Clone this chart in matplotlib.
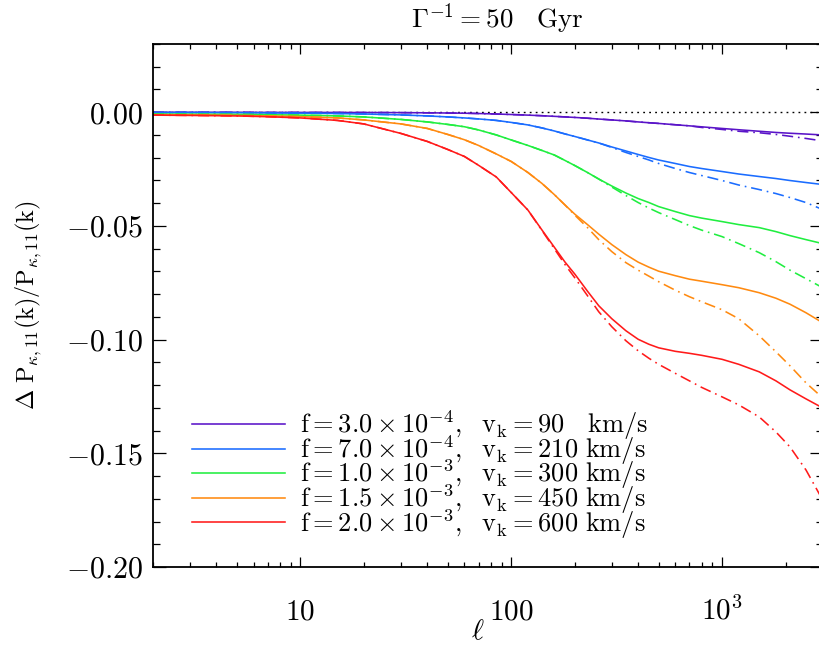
import matplotlib
matplotlib.use('Agg')
import matplotlib.pyplot as plt
from matplotlib.ticker import FixedLocator, FuncFormatter, NullFormatter

plt.rcParams['mathtext.fontset'] = 'cm'
plt.rcParams['font.family'] = ['DejaVu Serif']
plt.rcParams['lines.scale_dashes'] = False

# ---------------- data ----------------
ell = [2, 3, 5, 7, 10, 15, 20, 30, 40, 50, 60, 70, 85, 100, 120, 140, 160, 180,
       200, 230, 260, 300, 350, 400, 450, 500, 600, 700, 800, 1000, 1200, 1500,
       1800, 2100, 2500, 3000]

purple_solid = [-0.00004, -0.00004, -0.00004, -0.00009, -0.00009, -0.00011, -0.00013,
                -0.00018, -0.00026, -0.00035, -0.00044, -0.00057, -0.00079, -0.00101,
                -0.00128, -0.00154, -0.00181, -0.00207, -0.00229, -0.00264, -0.00300,
                -0.00339, -0.00383, -0.00427, -0.00463, -0.00493, -0.00551, -0.00599,
                -0.00643, -0.00714, -0.00771, -0.00837, -0.00890, -0.00925, -0.00960,
                -0.01000]
purple_dash = [-0.00004, -0.00004, -0.00004, -0.00009, -0.00009, -0.00011, -0.00013,
               -0.00018, -0.00026, -0.00035, -0.00044, -0.00057, -0.00079, -0.00101,
               -0.00128, -0.00154, -0.00181, -0.00207, -0.00229, -0.00264, -0.00300,
               -0.00339, -0.00383, -0.00427, -0.00463, -0.00493, -0.00551, -0.00599,
               -0.00670, -0.00758, -0.00837, -0.00903, -0.00978, -0.01057, -0.01154,
               -0.01264]

blue_solid = [-0.00013, -0.00013, -0.00022, -0.00031, -0.00040, -0.00057, -0.00079,
              -0.00119, -0.00163, -0.00207, -0.00251, -0.00295, -0.00361, -0.00449,
              -0.00559, -0.00692, -0.00824, -0.00956, -0.01066, -0.01220, -0.01352,
              -0.01529, -0.01705, -0.01859, -0.01991, -0.02101, -0.02255, -0.02388,
              -0.02476, -0.02608, -0.02718, -0.02828, -0.02916, -0.03004, -0.03092,
              -0.03180]
blue_dash = [-0.00013, -0.00013, -0.00022, -0.00031, -0.00040, -0.00057, -0.00079,
             -0.00119, -0.00163, -0.00207, -0.00251, -0.00295, -0.00361, -0.00449,
             -0.00559, -0.00692, -0.00824, -0.00956, -0.01066, -0.01220, -0.01352,
             -0.01551, -0.01771, -0.01947, -0.02101, -0.02255, -0.02476, -0.02652,
             -0.02784, -0.03004, -0.03202, -0.03401, -0.03577, -0.03753, -0.03973,
             -0.04282]

green_solid = [-0.00084, -0.00088, -0.00097, -0.00110, -0.00128, -0.00163, -0.00207,
               -0.00317, -0.00427, -0.00537, -0.00639, -0.00780, -0.01000, -0.01220,
               -0.01462, -0.01683, -0.01881, -0.02123, -0.02343, -0.02652, -0.02938,
               -0.03246, -0.03555, -0.03797, -0.03973, -0.04150, -0.04370, -0.04546,
               -0.04656, -0.04810, -0.04942, -0.05075, -0.05251, -0.05427, -0.05603,
               -0.05779]
green_dash = [-0.00084, -0.00088, -0.00097, -0.00110, -0.00128, -0.00163, -0.00207,
              -0.00317, -0.00427, -0.00537, -0.00639, -0.00780, -0.01000, -0.01220,
              -0.01462, -0.01683, -0.01881, -0.02123, -0.02343, -0.02652, -0.02938,
              -0.03291, -0.03665, -0.03973, -0.04216, -0.04414, -0.04722, -0.04986,
              -0.05185, -0.05471, -0.05779, -0.06176, -0.06572, -0.06947, -0.07321,
              -0.07718]

orange_solid = [-0.00110, -0.00119, -0.00141, -0.00163, -0.00194, -0.00251, -0.00339,
                -0.00515, -0.00714, -0.00978, -0.01211, -0.01462, -0.01837, -0.02167,
                -0.02652, -0.03136, -0.03621, -0.04083, -0.04480, -0.04942, -0.05361,
                -0.05823, -0.06264, -0.06594, -0.06815, -0.06991, -0.07189, -0.07343,
                -0.07431, -0.07585, -0.07718, -0.07938, -0.08180, -0.08444, -0.08819,
                -0.09259]
orange_dash = [-0.00110, -0.00119, -0.00141, -0.00163, -0.00194, -0.00251, -0.00339,
               -0.00515, -0.00714, -0.00978, -0.01211, -0.01462, -0.01837, -0.02167,
               -0.02652, -0.03136, -0.03621, -0.04083, -0.04524, -0.05075, -0.05603,
               -0.06132, -0.06616, -0.06947, -0.07211, -0.07453, -0.07828, -0.08114,
               -0.08334, -0.08687, -0.09083, -0.09832, -0.10537, -0.11153, -0.11902,
               -0.12563]

red_solid = [-0.00128, -0.00141, -0.00163, -0.00198, -0.00251, -0.00361, -0.00515,
             -0.00934, -0.01286, -0.01639, -0.01947, -0.02335, -0.02850, -0.03533,
             -0.04304, -0.05185, -0.05934, -0.06594, -0.07114, -0.07872, -0.08510,
             -0.09083, -0.09612, -0.09986, -0.10206, -0.10360, -0.10515, -0.10603,
             -0.10691, -0.10867, -0.11087, -0.11418, -0.11814, -0.12211, -0.12607,
             -0.13004]
red_dash = [-0.00128, -0.00141, -0.00163, -0.00198, -0.00251, -0.00361, -0.00515,
            -0.00934, -0.01286, -0.01639, -0.01947, -0.02335, -0.02850, -0.03533,
            -0.04304, -0.05207, -0.06000, -0.06704, -0.07277, -0.08070, -0.08775,
            -0.09436, -0.10052, -0.10493, -0.10823, -0.11087, -0.11484, -0.11814,
            -0.12101, -0.12519, -0.12872, -0.13400, -0.14061, -0.14722, -0.15735,
            -0.17056]

labels = [
    r'$\mathrm{f}=3.0\times10^{-4},\ \ \mathrm{v}_\mathrm{k}=90\ \ \ \mathrm{km/s}$',
    r'$\mathrm{f}=7.0\times10^{-4},\ \ \mathrm{v}_\mathrm{k}=210\ \mathrm{km/s}$',
    r'$\mathrm{f}=1.0\times10^{-3},\ \ \mathrm{v}_\mathrm{k}=300\ \mathrm{km/s}$',
    r'$\mathrm{f}=1.5\times10^{-3},\ \ \mathrm{v}_\mathrm{k}=450\ \mathrm{km/s}$',
    r'$\mathrm{f}=2.0\times10^{-3},\ \ \mathrm{v}_\mathrm{k}=600\ \mathrm{km/s}$',
]
colors = ['#5a14c8', '#1a6cff', '#20ee40', '#ff8a10', '#ff1a1a']
solids = [purple_solid, blue_solid, green_solid, orange_solid, red_solid]
dashes = [purple_dash, blue_dash, green_dash, orange_dash, red_dash]

xticks = [10, 100, 1000]
xticklabels = [r'$10$', r'$100$', r'$10^3$']
xminor = [2, 3, 4, 5, 6, 7, 8, 9, 20, 30, 40, 50, 60, 70, 80, 90,
          200, 300, 400, 500, 600, 700, 800, 900, 2000, 3000]
yticks = [-0.20, -0.15, -0.10, -0.05, 0.0]

# ---------------- figure ----------------
fig = plt.figure(figsize=(8.2, 6.45), dpi=100)
ax = fig.add_axes([153 / 820, 78 / 645, 669.7 / 820, 523 / 645])

ax.axhline(0.0, color='black', lw=1.0, ls=(0, (1.3, 3.0)))

lw = 1.15
for c, s, d, lab in zip(colors, solids, dashes, labels):
    ax.plot(ell, d, color=c, lw=lw, ls=(0, (8.0, 3.5, 1.2, 3.5)))
    ax.plot(ell, s, color=c, lw=lw, label=lab)

ax.set_xscale('log')
ax.set_xlim(2, 3000)
ax.set_ylim(-0.20, 0.03)

ax.xaxis.set_major_locator(FixedLocator(xticks))
ax.xaxis.set_minor_locator(FixedLocator(xminor))
ax.set_xticks(xticks, xticklabels)
ax.xaxis.set_minor_formatter(NullFormatter())

ax.yaxis.set_major_locator(FixedLocator(yticks))
ax.yaxis.set_minor_locator(FixedLocator([v / 100 for v in range(-20, 4)]))
ax.yaxis.set_major_formatter(FuncFormatter(lambda v, p: r'$%.2f$' % (0.0 if abs(v) < 1e-9 else v)))

ax.tick_params(which='both', direction='in', top=True, right=True, width=0.9, colors='black')
ax.tick_params(axis='y', which='major', length=9.4, pad=7, labelsize=21.5)
ax.tick_params(axis='y', which='minor', length=5.0)
ax.tick_params(axis='x', which='major', length=7.2, pad=38, labelsize=21)
ax.tick_params(axis='x', which='minor', length=3.6)
for t in ax.get_xticklabels():
    t.set_verticalalignment('baseline')

for sp in ax.spines.values():
    sp.set_linewidth(1.3)

ax.set_title(r'$\Gamma^{-1}=50\ \ \ \mathrm{Gyr}$', fontsize=19.5, pad=12, x=0.515)
ax.set_ylabel(r'$\Delta\ \mathrm{P}_{\kappa,11}(\mathrm{k})/\mathrm{P}_{\kappa,11}(\mathrm{k})$',
              fontsize=17.5, labelpad=16)
ax.set_xlabel(r'$\ell$', fontsize=21)
ax.xaxis.set_label_coords(0.485, -0.095)

leg = ax.legend(loc='upper left', bbox_to_anchor=(0.058, 0.303), frameon=False,
                fontsize=19, handlelength=3.53, handletextpad=0.57,
                labelspacing=-0.345, borderpad=0, borderaxespad=0)

fig.savefig('out.png', dpi=100)
